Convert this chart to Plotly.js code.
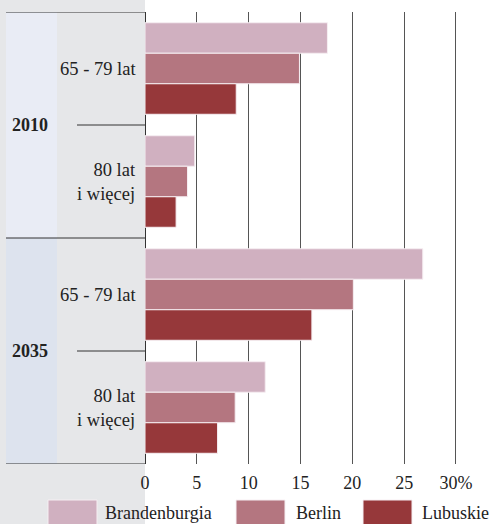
<!DOCTYPE html>
<html>
<head>
<meta charset="utf-8">
<script src="https://cdn.plot.ly/plotly-3.0.1.min.js"></script>
<style>html,body{margin:0;padding:0;background:#fff;}#chart{width:490px;height:524px;}</style>
</head>
<body>
<div id="chart"></div>
<script>
// Data
var years = ['2010', '2035'];
var ageGroups = ['65 - 79 lat', '80 lat<br>i więcej'];
var categories = ['2010|65-79', '2010|80+', '2035|65-79', '2035|80+'];
var seriesNames = ['Brandenburgia', 'Berlin', 'Lubuskie'];
var brandenburgia = [17.6, 4.8, 26.8, 11.6];
var berlin = [14.9, 4.1, 20.1, 8.7];
var lubuskie = [8.8, 3.0, 16.1, 7.0];
var tickValues = [0, 5, 10, 15, 20, 25, 30];
var tickLabels = ['0', '5', '10', '15', '20', '25', '30%'];

var colors = ['#d0b0c0', '#b47680', '#96383a'];
var seriesValues = [brandenburgia, berlin, lubuskie];
var serif = "'Liberation Serif', 'Times New Roman', Times, serif";

var W = 490, H = 524, ML = 145, MR = 33, MT = 12, MB = 60;
var PW = W - ML - MR, PH = H - MT - MB;
function px(x) { return (x - ML) / PW; }
function py(y) { return (H - MB - y) / PH; }

var traces = seriesNames.map(function (name, i) {
  return {
    type: 'bar', orientation: 'h', name: name,
    y: categories, x: seriesValues[i],
    marker: {color: colors[i], line: {color: '#f6eef2', width: 1}},
    hoverinfo: 'x+name'
  };
});

var shapes = [
  {type: 'rect', xref: 'paper', yref: 'paper', x0: px(0), x1: 0, y0: py(H + 2), y1: py(-2),
   fillcolor: '#e6e7e9', line: {width: 0}, layer: 'below'},
  {type: 'rect', xref: 'paper', yref: 'y', x0: px(6), x1: px(57), y0: -0.5, y1: 1.5,
   fillcolor: '#e9ecf5', line: {width: 0}, layer: 'below'},
  {type: 'rect', xref: 'paper', yref: 'y', x0: px(6), x1: px(57), y0: 1.5, y1: 3.5,
   fillcolor: '#dde3ee', line: {width: 0}, layer: 'below'}
];
[-0.5, 1.5, 3.5].forEach(function (v) {
  shapes.push({type: 'line', xref: 'paper', yref: 'y', x0: px(6), x1: 0, y0: v, y1: v,
    line: {color: '#333', width: 1}});
});
[0.5, 2.5].forEach(function (v) {
  shapes.push({type: 'line', xref: 'paper', yref: 'y', x0: px(77), x1: 0, y0: v, y1: v,
    line: {color: '#333', width: 1}});
});

var annotations = [];
years.forEach(function (yr, i) {
  annotations.push({text: '<b>' + yr + '</b>', xref: 'paper', yref: 'y', x: px(30), y: i * 2 + 0.5,
    xanchor: 'center', yanchor: 'middle', showarrow: false,
    font: {family: serif, size: 18, color: '#222'}});
  ageGroups.forEach(function (ag, j) {
    annotations.push({text: ag, xref: 'paper', yref: 'y', x: px(138), y: i * 2 + j,
      xanchor: 'right', yanchor: 'middle', align: 'right', showarrow: false,
      font: {family: serif, size: 18.5, color: '#222'}});
  });
});

// legend (drawn manually for large swatches)
var swatchX = [48, 236, 363];
var labelX = [103, 294, 420];
seriesNames.forEach(function (name, i) {
  shapes.push({type: 'rect', xref: 'paper', yref: 'paper', x0: px(swatchX[i]), x1: px(swatchX[i] + 49),
    y0: py(528), y1: py(500), fillcolor: colors[i], line: {color: '#f6eef2', width: 1}});
  annotations.push({text: name, xref: 'paper', yref: 'paper', x: px(labelX[i]), y: py(513),
    xanchor: 'left', yanchor: 'middle', showarrow: false,
    font: {family: serif, size: 18, color: '#222'}});
});

var layout = {
  width: W, height: H,
  margin: {l: ML, r: MR, t: MT, b: MB, pad: 0},
  paper_bgcolor: '#ffffff', plot_bgcolor: 'rgba(0,0,0,0)',
  barmode: 'group', bargap: 0.19, bargroupgap: 0,
  showlegend: false,
  xaxis: {range: [0, 30.1], tickvals: tickValues, ticktext: tickLabels,
    showgrid: true, gridcolor: '#555', gridwidth: 1,
    zeroline: true, zerolinecolor: '#333', zerolinewidth: 1,
    showline: false, ticks: '', fixedrange: true, ticklabelstandoff: 6,
    tickfont: {family: serif, size: 18, color: '#222'}},
  yaxis: {type: 'category', categoryorder: 'array', categoryarray: categories,
    range: [3.5, -0.5], showticklabels: false, showgrid: false, zeroline: false,
    showline: false, ticks: '', fixedrange: true},
  shapes: shapes,
  annotations: annotations
};

Plotly.newPlot('chart', traces, layout, {displayModeBar: false, staticPlot: true});
</script>
</body>
</html>
